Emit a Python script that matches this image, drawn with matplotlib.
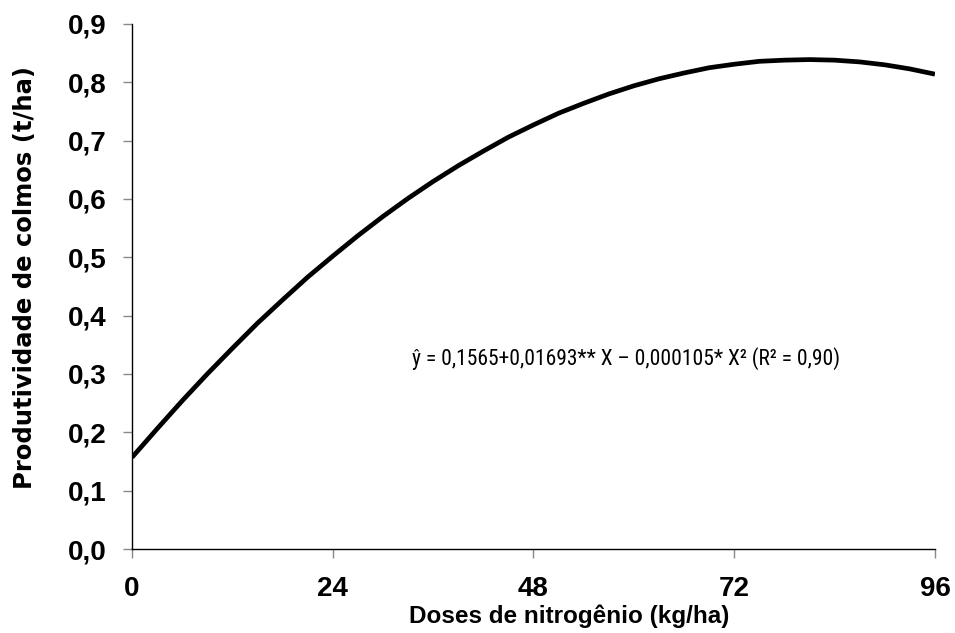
import matplotlib
matplotlib.use("Agg")
import matplotlib.pyplot as plt
from matplotlib import font_manager

plt.rcParams['font.family'] = ['Liberation Sans', 'DejaVu Sans']

dose = [0, 3, 6, 9, 12, 15, 18, 21, 24, 27, 30, 33, 36, 39, 42, 45, 48,
        51, 54, 57, 60, 63, 66, 69, 72, 75, 78, 81, 84, 87, 90, 93, 96]
prod = [0.157, 0.206, 0.254, 0.300, 0.344, 0.387, 0.427, 0.466, 0.502, 0.537,
        0.570, 0.601, 0.630, 0.657, 0.682, 0.706, 0.727, 0.747, 0.764, 0.780,
        0.794, 0.806, 0.816, 0.825, 0.831, 0.836, 0.838, 0.839, 0.838, 0.835,
        0.830, 0.823, 0.814]
xticks = [0, 24, 48, 72, 96]
yticks = [0.0, 0.1, 0.2, 0.3, 0.4, 0.5, 0.6, 0.7, 0.8, 0.9]
ytick_labels = ['0,0', '0,1', '0,2', '0,3', '0,4', '0,5', '0,6', '0,7', '0,8', '0,9']
equation = 'ŷ = 0,1565+0,01693** X – 0,000105* X² (R² = 0,90)'

fig = plt.figure(figsize=(9.55, 6.33), dpi=100)
ax = fig.add_axes([0.1382, 0.1327, 0.8408, 0.8294])
ax.plot(dose, prod, color='black', lw=3.4, solid_capstyle='butt')
ax.set_xlim(0, 96)
ax.set_ylim(0, 0.9)
ax.set_xticks(xticks)
ax.set_xticklabels([str(t) for t in xticks], fontsize=20, fontweight='bold')
ax.set_yticks(yticks)
ax.set_yticklabels(ytick_labels, fontsize=20, fontweight='bold')
ax.spines['top'].set_visible(False)
ax.spines['right'].set_visible(False)
for s in ['left', 'bottom']:
    ax.spines[s].set_linewidth(1.0)
ax.tick_params(axis='both', direction='out', length=6.5, width=1, color='#888888')
ax.tick_params(axis='x', pad=13)
ax.tick_params(axis='y', pad=12)
ax.set_xlabel('Doses de nitrogênio (kg/ha)', fontsize=17.5, fontweight='bold')
ax.xaxis.set_label_coords(0.544, -0.106)
ax.xaxis.label.set_va('top')
ax.set_ylabel('Produtividade de colmos (t/ha)', fontsize=17.5, fontweight='bold',
              family='DejaVu Sans')
ax.yaxis.set_label_coords(-0.118, 0.518)

names = {f.name for f in font_manager.fontManager.ttflist}
eq_size = 15.5
eq_kw = dict(fontsize=eq_size, family='DejaVu Sans', fontstretch='condensed')
for cand in ['Liberation Sans Narrow', 'Roboto Condensed', 'Open Sans Condensed',
             'Arial Narrow', 'Noto Sans Condensed']:
    if cand in names:
        eq_kw = dict(fontsize=eq_size, family=cand)
        break
ax.text(59.1, 0.327, equation, ha='center', va='center', **eq_kw)

fig.savefig('out.png', dpi=100)
